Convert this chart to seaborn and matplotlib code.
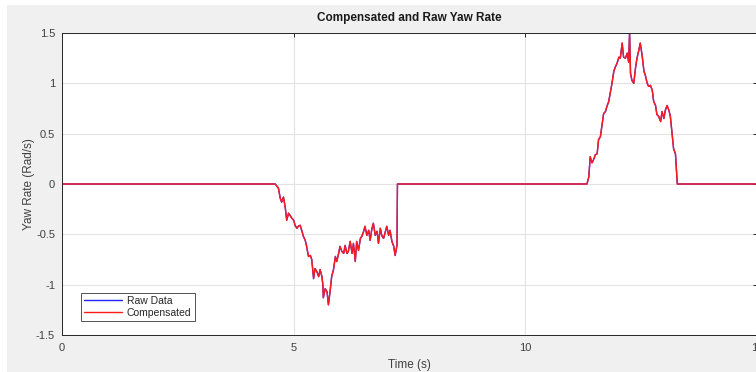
import matplotlib
matplotlib.use("Agg")
import matplotlib.pyplot as plt
import seaborn as sns
import pandas as pd
from matplotlib.patches import Rectangle

# ---- data ----
time_s = [0.0, 4.55, 4.60, 4.67, 4.71, 4.74, 4.78, 4.82, 4.85, 4.89, 4.92, 4.96, 5.00,
          5.03, 5.07, 5.10, 5.14, 5.18, 5.21, 5.25, 5.28, 5.32, 5.36, 5.39, 5.41, 5.43,
          5.46, 5.50, 5.54, 5.57, 5.61, 5.63, 5.64, 5.68, 5.72, 5.75, 5.79, 5.82, 5.86,
          5.90, 5.93, 5.97, 6.00, 6.04, 6.08, 6.11, 6.15, 6.18, 6.22, 6.26, 6.29, 6.33,
          6.36, 6.40, 6.44, 6.47, 6.51, 6.54, 6.58, 6.62, 6.65, 6.69, 6.72, 6.76, 6.80,
          6.83, 6.87, 6.90, 6.94, 6.98, 7.01, 7.05, 7.08, 7.12, 7.16, 7.19, 7.23, 7.24,
          11.22, 11.33, 11.37, 11.40, 11.44, 11.48, 11.51, 11.55, 11.58, 11.62, 11.66,
          11.69, 11.73, 11.76, 11.80, 11.84, 11.87, 11.91, 11.94, 11.98, 12.02, 12.05,
          12.09, 12.12, 12.16, 12.20, 12.23, 12.25, 12.27, 12.30, 12.34, 12.38, 12.41,
          12.45, 12.48, 12.52, 12.56, 12.59, 12.63, 12.66, 12.70, 12.74, 12.77, 12.81,
          12.84, 12.88, 12.92, 12.95, 12.99, 13.02, 13.06, 13.10, 13.13, 13.17, 13.20,
          13.24, 13.28, 15.0]
compensated = [0.0, 0.0, 0.0, -0.04, -0.14, -0.18, -0.13, -0.24, -0.36, -0.29, -0.31, -0.34, -0.36,
               -0.41, -0.44, -0.42, -0.41, -0.47, -0.52, -0.56, -0.62, -0.72, -0.71, -0.75, -0.85, -0.94,
               -0.84, -0.87, -0.92, -0.85, -0.92, -1.00, -1.13, -1.04, -1.07, -1.20, -1.05, -0.92, -0.85,
               -0.72, -0.77, -0.69, -0.62, -0.67, -0.69, -0.61, -0.69, -0.67, -0.57, -0.69, -0.59, -0.77,
               -0.57, -0.66, -0.54, -0.52, -0.47, -0.42, -0.51, -0.46, -0.56, -0.44, -0.39, -0.51, -0.47,
               -0.59, -0.44, -0.51, -0.54, -0.47, -0.42, -0.51, -0.46, -0.57, -0.62, -0.71, -0.61, 0.0,
               0.0, 0.0, 0.07, 0.27, 0.21, 0.25, 0.29, 0.30, 0.44, 0.47, 0.60,
               0.70, 0.72, 0.77, 0.82, 0.92, 1.00, 1.12, 1.16, 1.20, 1.26, 1.25,
               1.40, 1.26, 1.25, 1.30, 1.21, 1.51, 1.10, 1.03, 1.00, 1.16, 1.25,
               1.33, 1.40, 1.28, 1.12, 1.08, 1.00, 0.97, 0.98, 0.93, 0.82, 0.78,
               0.69, 0.67, 0.62, 0.72, 0.65, 0.73, 0.78, 0.73, 0.67, 0.49, 0.35,
               0.30, 0.0, 0.0]
raw_data = list(compensated)

x_ticks = [0, 5, 10, 15]
y_ticks = [-1.5, -1, -0.5, 0, 0.5, 1, 1.5]
y_tick_labels = ["-1.5", "-1", "-0.5", "0", "0.5", "1", "1.5"]

df = pd.DataFrame({
    "Time (s)": time_s * 2,
    "Yaw Rate (Rad/s)": raw_data + compensated,
    "Series": ["Raw Data"] * len(time_s) + ["Compensated"] * len(time_s),
})

sns.set_style("white")
plt.rcParams['font.family'] = ['Liberation Sans', 'DejaVu Sans']

fig = plt.figure(figsize=(7.56, 3.72), dpi=100)
fig.patch.set_facecolor("white")
fig.patches.append(Rectangle((7 / 756, 0), 1, 1 - 5 / 372, transform=fig.transFigure,
                             facecolor="#f0f0f0", edgecolor="none", zorder=-10))
ax = fig.add_axes([62 / 756, 1 - 335 / 372, (757 - 62) / 756, (335 - 33) / 372])
ax.set_facecolor("white")

sns.lineplot(data=df, x="Time (s)", y="Yaw Rate (Rad/s)", hue="Series",
             palette={"Raw Data": "#2222ff", "Compensated": "#ff1a1a"},
             estimator=None, sort=False, linewidth=1.0, ax=ax)

ax.set_xlim(0, 15)
ax.set_ylim(-1.5, 1.5)
ax.set_xticks(x_ticks)
ax.set_xticklabels([str(v) for v in x_ticks])
ax.set_yticks(y_ticks)
ax.set_yticklabels(y_tick_labels)
ax.grid(True, color="#e3e3e3", linewidth=0.8)
ax.set_axisbelow(True)
ax.tick_params(direction="in", length=3, width=0.7, colors="#262626", labelsize=8,
               labelcolor="#404040", top=True, right=True)
ax.tick_params(axis="x", pad=6)
ax.tick_params(axis="y", pad=5)
for s in ax.spines.values():
    s.set_color("#262626")
    s.set_linewidth(0.7)

ax.set_xlabel("Time (s)", fontsize=8.5, color="#404040", labelpad=4)
ax.set_ylabel("Yaw Rate (Rad/s)", fontsize=8.5, color="#404040", labelpad=1)
ax.set_title("Compensated and Raw Yaw Rate", fontsize=8.5, fontweight="bold",
             color="#1a1a1a", pad=9)

leg = ax.legend(loc="lower left", bbox_to_anchor=(0.02, 0.03), fontsize=7.5,
                frameon=True, fancybox=False, handlelength=3.6, handletextpad=0.5,
                borderpad=0.3, labelspacing=0.15)
leg.get_frame().set_edgecolor("#262626")
leg.get_frame().set_linewidth(0.7)
leg.set_title(None)

fig.savefig("out.png", dpi=100, facecolor=fig.get_facecolor())
